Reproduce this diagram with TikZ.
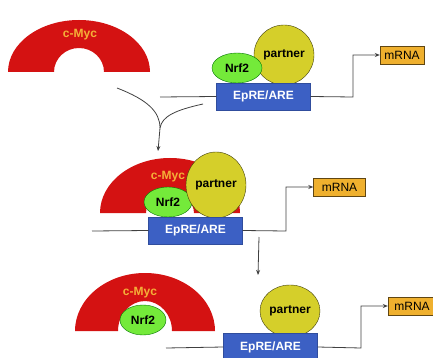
\documentclass[tikz,border=0pt]{standalone}
\usepackage{fontspec}
\setmainfont{Liberation Sans}
\usetikzlibrary{arrows.meta, shapes.geometric}

\definecolor{mycred}{HTML}{D41212}
\definecolor{myctext}{HTML}{F4B038}
\definecolor{nrfgreen}{HTML}{74EA3A}
\definecolor{partneryellow}{HTML}{D5CF2A}
\definecolor{siteblue}{HTML}{3C60C4}
\definecolor{mrnaorange}{HTML}{EFB02E}

% half ring: centre x, centre y, outer radii, inner radii
\newcommand{\mycarch}[6]{%
  \fill[mycred] (#1-#3,#2) arc[start angle=180, end angle=0, x radius=#3, y radius=#4]
    -- (#1+#5,#2) arc[start angle=0, end angle=180, x radius=#5, y radius=#6] -- cycle;}

\begin{document}
\begin{tikzpicture}[x=1pt, y=1pt,
  every node/.style={font=\bfseries\fontsize{12}{14}\selectfont, inner sep=0pt},
  nrf/.style={draw=green!45!black, fill=nrfgreen, ellipse, minimum width=#1, minimum height=30},
  partnerblob/.style={draw=black!70!partneryellow, fill=partneryellow, ellipse, minimum width=60, minimum height=#1},
  site/.style={draw=siteblue!80!black, fill=siteblue, text=white, minimum width=94, minimum height=27},
  mrna/.style={draw=black!60!mrnaorange, fill=mrnaorange, font=\fontsize{12}{14}\selectfont, minimum width=#1, minimum height=18},
  dna/.style={draw=black!75, line width=0.8pt},
  link/.style={draw=black!75, line width=0.8pt, -{Stealth[length=5pt, width=4pt]}}]
  \useasboundingbox (0,0) rectangle (433,-358);

  % free c-Myc, Nrf2 with partner on the site
  \mycarch{79}{-72}{71}{52}{25}{24}
  \node[text=myctext] (myc1) at (80,-35) {c-Myc};
  \node[partnerblob=60] (partner1) at (284,-55) {partner};
  \node[nrf=50] (nrf1) at (237,-68) {Nrf2};
  \node[site] (site1) at (263.5,-96.5) {EpRE/ARE};
  \node[mrna=44] (mrna1) at (402,-55) {mRNA};
  \coordinate (dna1) at (160,-97);
  \coordinate (bend1) at (353,-97);
  \draw[dna] (dna1) -- (site1.west);
  \draw[link] (site1.east) -- (bend1) |- (mrna1.west);

  % merging arrow
  \coordinate (fromMyc) at (117,-88);
  \coordinate (fromSite) at (203,-104);
  \coordinate (join) at (160,-128);
  \coordinate (into2) at (158,-151);
  \draw[dna] (fromMyc) .. controls (148,-100) and (160,-112) .. (join);
  \draw[dna] (fromSite) .. controls (176,-110) and (162,-116) .. (join);
  \draw[link] (join) -- (into2);

  % c-Myc bound to Nrf2
  \mycarch{170}{-213}{70}{55}{24}{20}
  \node[text=myctext] (myc2) at (168,-177) {c-Myc};
  \node[nrf=48] (nrf2) at (168,-202) {Nrf2};
  \node[partnerblob=66] (partner2) at (216,-185) {partner};
  \node[site] (site2) at (195.5,-230.5) {EpRE/ARE};
  \node[mrna=52] (mrna2) at (339.5,-187) {mRNA};
  \coordinate (dna2) at (92,-231);
  \coordinate (bend2) at (286,-231);
  \draw[dna] (dna2) -- (site2.west);
  \draw[link] (site2.east) -- (bend2) |- (mrna2.west);

  \coordinate (from2) at (259,-237);
  \coordinate (into3) at (258,-275);
  \draw[link] (from2) -- (into3);

  % Nrf2 held by c-Myc, partner left on the site
  \mycarch{145}{-331}{70}{58}{27}{30}
  \node[text=myctext] (myc3) at (140,-293) {c-Myc};
  \node[nrf=46] (nrf3) at (143,-320) {Nrf2};
  \node[partnerblob=52] (partner3) at (290,-311) {partner};
  \node[site] (site3) at (270.5,-347) {EpRE/ARE};
  \node[mrna=48] (mrna3) at (412,-306) {mRNA};
  \coordinate (dna3) at (166,-348);
  \coordinate (bend3) at (361,-348);
  \draw[dna] (dna3) -- (site3.west);
  \draw[link] (site3.east) -- (bend3) |- (mrna3.west);
\end{tikzpicture}
\end{document}
